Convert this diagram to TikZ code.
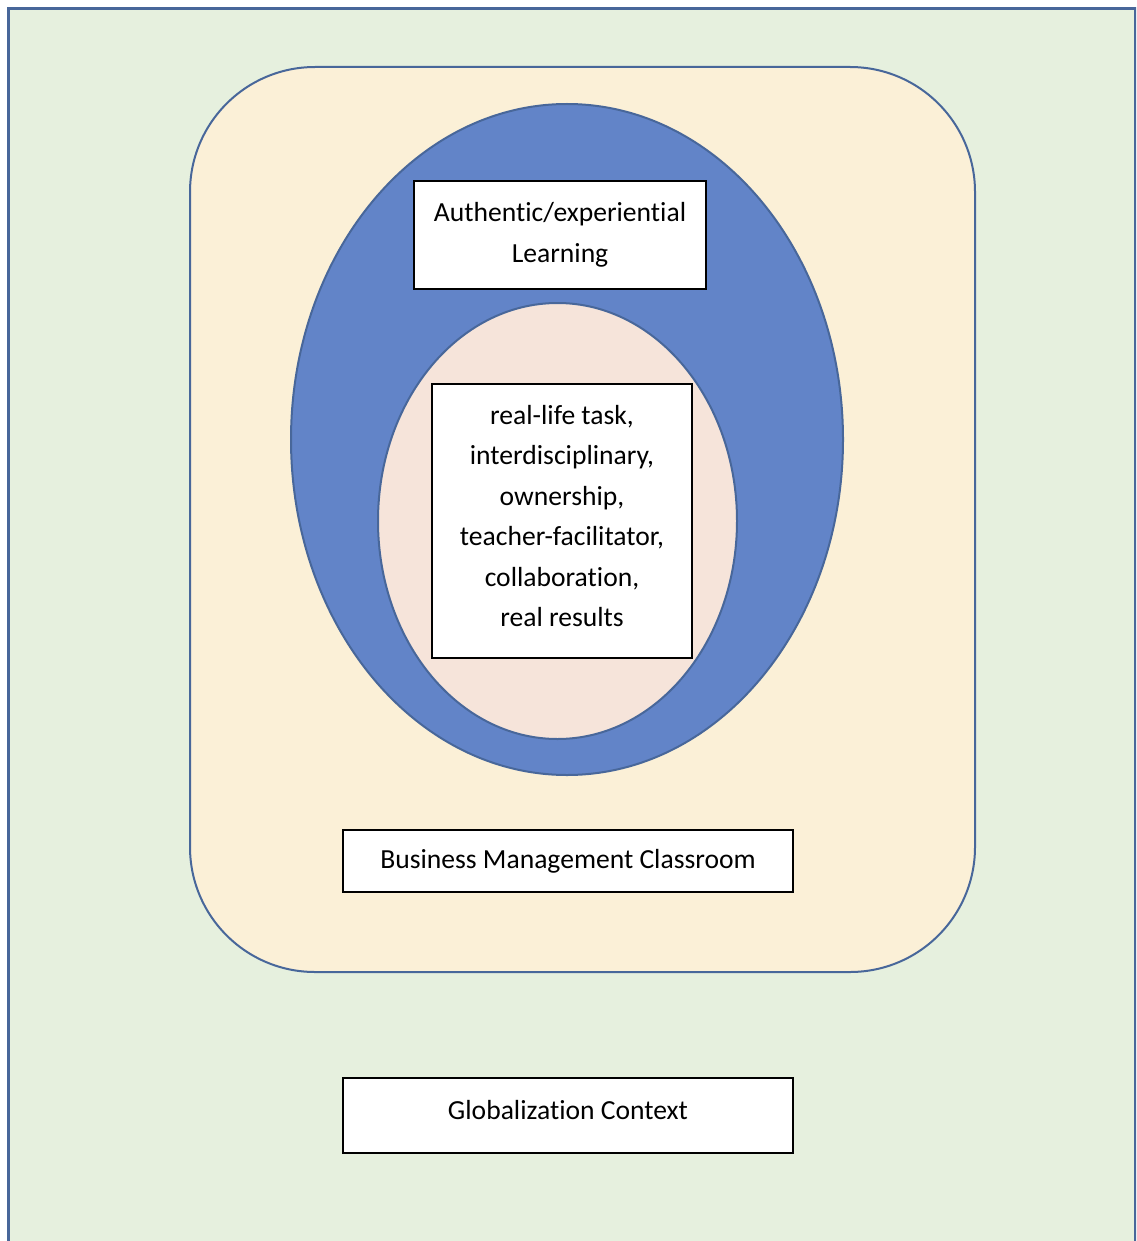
\documentclass[tikz,border=0pt]{standalone}
\usepackage{fontspec}
\setmainfont[Ligatures=NoCommon]{Carlito}

\definecolor{bgGreen}{RGB}{230,240,222}
\definecolor{lineBlue}{RGB}{72,103,154}
\definecolor{creamFill}{RGB}{251,240,215}
\definecolor{ovalBlue}{RGB}{98,132,200}
\definecolor{pinkFill}{RGB}{246,228,218}

\tikzset{
  boxed/.style={draw=black, line width=1.3pt, fill=white, align=center,
    inner sep=0pt, font=\fontsize{27.6}{40.5}\selectfont}
}

\begin{document}
\begin{tikzpicture}[x=1pt,y=-1pt]

\useasboundingbox (0,0) rectangle (1136,1241);
\clip (0,0) rectangle (1136,1241);

\coordinate (cOuterC) at (567, 439.5);
\coordinate (cInnerC) at (557.5, 521);

% globalization frame
\draw[line width=3pt, draw=lineBlue, fill=bgGreen] (8,9) rectangle (1135,1260);

% classroom
\draw[line width=2pt, draw=lineBlue, fill=creamFill, rounded corners=125pt]
  (190,67) rectangle (975,972);

% the two ovals
\draw[line width=2pt, draw=lineBlue, fill=ovalBlue]
  (cOuterC) ellipse [x radius=276pt, y radius=335.5pt];
\draw[line width=2pt, draw=lineBlue, fill=pinkFill]
  (cInnerC) ellipse [x radius=179.5pt, y radius=218pt];

\node[boxed, minimum width=292pt, minimum height=108pt] (nAuth) at (560,235)
  {Authentic/experiential\\Learning};
\node[boxed, minimum width=260pt, minimum height=274pt, text depth=10pt] (nTraits) at (562,521)
  {real-life task,\\interdisciplinary,\\ownership,\\teacher-facilitator,\\collaboration,\\real results};
\node[boxed, minimum width=450pt, minimum height=62pt] (nClass) at (568,861)
  {Business Management Classroom};
\node[boxed, minimum width=450pt, minimum height=75pt, text depth=12pt] (nGlobal) at (568,1115.5)
  {Globalization Context};

\end{tikzpicture}
\end{document}
